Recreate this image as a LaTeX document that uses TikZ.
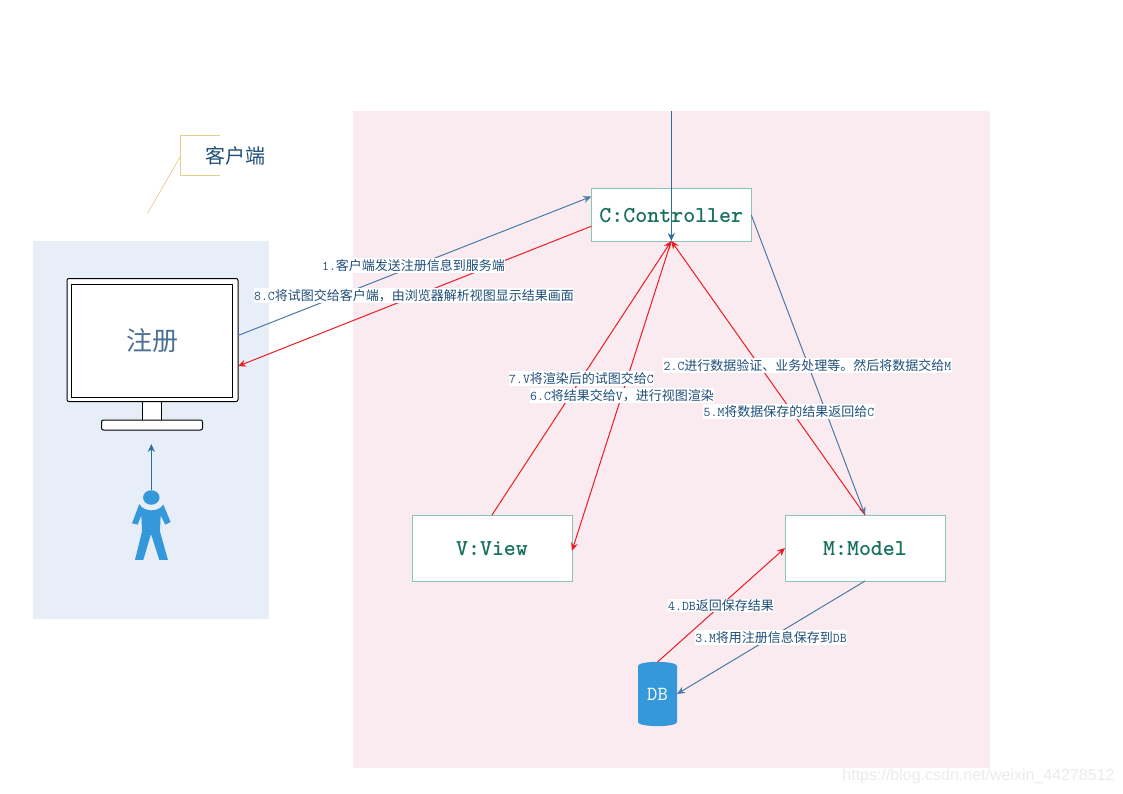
\documentclass[tikz,border=0pt]{standalone}
\usepackage{fontspec}
\usetikzlibrary{arrows.meta,shapes.geometric}
\newfontfamily\cjk{Noto Sans CJK SC}
\newfontfamily\wmfont{Liberation Sans}
\newcommand{\zh}[1]{{\fontsize{13}{14}\cjk #1}}
\newcommand{\boxlabel}[1]{\raisebox{-7.4pt}[0pt][0pt]{#1}}
\definecolor{panelblue}{HTML}{E8EEF8}
\definecolor{panelpink}{HTML}{FAEBF0}
\definecolor{flowblue}{HTML}{4A7AA8}
\definecolor{deepblue}{HTML}{2A709F}
\definecolor{flowred}{HTML}{EC1C24}
\definecolor{textblue}{HTML}{1F4E79}
\definecolor{boxedge}{HTML}{8CC4B8}
\definecolor{boxtext}{HTML}{17705E}
\definecolor{calloutgold}{HTML}{E6CD8E}
\definecolor{figblue}{HTML}{3498DB}
\tikzset{
  mvcbox/.style={draw=boxedge,fill=white,line width=1pt,inner sep=0pt,outer sep=0pt,text=boxtext,font=\fontsize{22.8}{24}\selectfont\ttfamily\bfseries},
  lbl/.style={fill=white,inner xsep=0.5pt,inner ysep=1pt,text=textblue,font=\fontsize{13.4}{14}\selectfont\ttfamily},
  blueflow/.style={draw=flowblue,line width=1pt,-{Stealth[length=8pt,width=7pt]}},
  redflow/.style={draw=flowred,line width=1pt,-{Stealth[length=8pt,width=7pt]}},
  deepflow/.style={draw=deepblue,line width=1pt,-{Stealth[length=8pt,width=7pt]}},
  monpart/.style={draw=black,fill=white,line width=1pt,inner sep=0pt,outer sep=0pt},
  callout/.style={draw=calloutgold,line width=1pt}
}
\begin{document}
\begin{tikzpicture}[x=1pt,y=-1pt]
\useasboundingbox (0,0) rectangle (1123,794);
% panels
\fill[panelblue] (33.3,241) rectangle (269.3,619);
\fill[panelpink] (352.7,111) rectangle (990.3,767.7);
% callout
\draw[callout] (220,136) -- (180.5,136) -- (180.5,176) -- (220,176);
\coordinate (calloutmid) at (180.5,156);
\coordinate (callouttip) at (147.5,213.5);
\draw[callout,line width=0.7pt] (calloutmid) -- (callouttip);
\node[text=textblue,font=\fontsize{20}{22}\selectfont\cjk,inner sep=0pt] (calloutlabel) at (235.5,155.5) {客户端};
% monitor
\node[monpart,minimum width=19pt,minimum height=20pt] (stand) at (152,410.5) {};
\node[monpart,rounded corners=2pt,minimum width=101pt,minimum height=10pt] (base) at (152,425) {};
\node[monpart,rounded corners=2pt,minimum width=171pt,minimum height=123pt] (monitor) at (152.5,340) {};
\node[monpart,minimum width=161pt,minimum height=113pt,text=textblue!80,font=\fontsize{26}{28}\selectfont\cjk] (screen) at (152,340.5) {注册};
% person
\node[fill=figblue,ellipse,minimum width=16.5pt,minimum height=14.5pt,inner sep=0pt,outer sep=0pt] (head) at (151.3,497.5) {};
\begin{scope}[shift={(50,390)},x=0.3333pt,y=-0.3333pt]
\fill[figblue] (268,342) .. controls (280,366) and (325,368) .. (340,344)
  -- (362,396) -- (346,404) -- (332,376) -- (330,425) -- (354,510) -- (328,510)
  -- (303,432) -- (280,510) -- (255,510) -- (276,425) -- (274,376) -- (263,404) -- (246,400) -- cycle;
\end{scope}
\coordinate (persontip) at (151.3,444);
\draw[deepflow] (head.north) -- (persontip);
% mvc boxes
\node[mvcbox,minimum width=160pt,minimum height=52pt] (ctrl) at (671.3,215) {\boxlabel{C:Controller}};
\node[mvcbox,minimum width=160pt,minimum height=66pt] (view) at (492,548) {\boxlabel{V:View}};
\node[mvcbox,minimum width=160pt,minimum height=66pt] (model) at (865,548) {\boxlabel{M:Model}};
% db
\fill[figblue] (638,666) .. controls (638,660.5) and (677,660.5) .. (677,666) -- (677,722)
  .. controls (677,727.5) and (638,727.5) .. (638,722) -- cycle;
\node[draw=none,inner sep=0pt,outer sep=0pt,minimum width=39pt,minimum height=64pt,text=white,font=\fontsize{20}{22}\selectfont\ttfamily] (db) at (657.5,694) {DB};
% connectors
\coordinate (topin) at (671.3,111);
\draw[deepflow] (topin) -- (ctrl.south);
\draw[blueflow] (monitor.3.3) -- (ctrl.167.3);
\draw[redflow] (ctrl.188.5) -- (monitor.343.5);
\draw[blueflow] (ctrl.east) -- (model.north);
\draw[blueflow] (model.south) -- (db.east);
\draw[redflow] (db.north) -- (model.west);
\draw[redflow] (model.north) -- (ctrl.south);
\draw[redflow] (view.north) -- (ctrl.south);
\draw[redflow] (ctrl.south) -- (view.358);
% labels
\node[lbl] (l1) at (413.5,265.5) {1.\zh{客户端发送注册信息到服务端}};
\node[lbl] (l8) at (414,295.5) {8.C\zh{将试图交给客户端，由浏览器解析视图显示结果画面}};
\node[lbl] (l2) at (807.5,365.5) {2.C\zh{进行数据验证、业务处理等。然后将数据交给}M};
\node[lbl] (l7) at (581.5,378.5) {7.V\zh{将渲染后的试图交给}C};
\node[lbl] (l6) at (622,395.5) {6.C\zh{将结果交给}V\zh{，进行视图渲染}};
\node[lbl] (l5) at (789,411.5) {5.M\zh{将数据保存的结果返回给}C};
\node[lbl] (l4) at (721,605.5) {4.DB\zh{返回保存结果}};
\node[lbl] (l3) at (771,637.5) {3.M\zh{将用注册信息保存到}DB};
% watermark
\node[text=black!8,font=\fontsize{16}{18}\selectfont\wmfont,inner sep=0pt] (wm) at (978.5,776) {https://blog.csdn.net/weixin\_44278512};
\end{tikzpicture}
\end{document}
